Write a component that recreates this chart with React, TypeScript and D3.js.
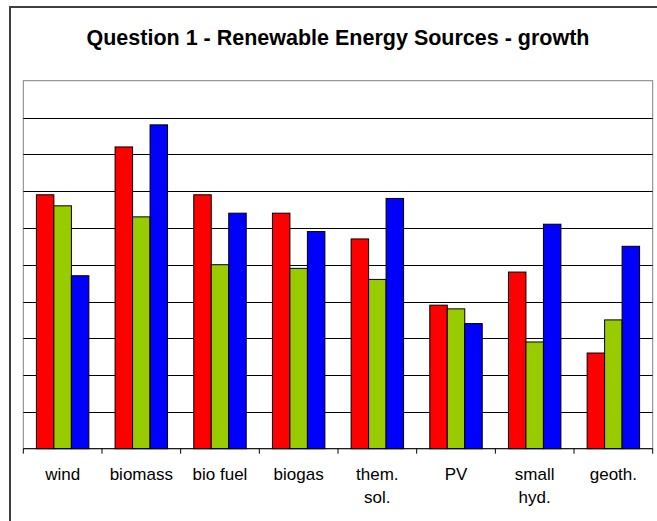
import React from "react";
import * as d3 from "d3";

const categories: string[][] = [
  ["wind"],
  ["biomass"],
  ["bio fuel"],
  ["biogas"],
  ["them.", "sol."],
  ["PV"],
  ["small", "hyd."],
  ["geoth."],
];
const seriesRed = [6.9, 8.2, 6.9, 6.4, 5.7, 3.9, 4.8, 2.6];
const seriesGreen = [6.6, 6.3, 5.0, 4.9, 4.6, 3.8, 2.9, 3.5];
const seriesBlue = [4.7, 8.8, 6.4, 5.9, 6.8, 3.4, 6.1, 5.5];
const seriesColors = ["#FF0000", "#99CC00", "#0000FF"];
const yTicks = [0, 1, 2, 3, 4, 5, 6, 7, 8, 9, 10];
const title = "Question 1 - Renewable Energy Sources - growth";

export default function App() {
  const W = 657;
  const H = 521;
  const left = 23.3;
  const right = 652.7;
  const top = 80.7;
  const bottom = 448.7;
  const keys = categories.map((c) => c.join(" "));
  const x = d3.scaleBand<string>().domain(keys).range([left, right]).paddingInner(0).paddingOuter(0);
  const bw = x.bandwidth();
  const groupW = (bw * 3) / 4.5;
  const xi = d3
    .scaleBand<number>()
    .domain([0, 1, 2])
    .range([(bw - groupW) / 2, (bw + groupW) / 2]);
  const y = d3.scaleLinear().domain([0, 10]).range([bottom, top]);
  const series = [seriesRed, seriesGreen, seriesBlue];
  const font = "Arial, 'Liberation Sans', sans-serif";

  return (
    <svg
      width={W}
      height={H}
      style={{ position: "absolute", left: 0, top: 0, background: "#fff" }}
      fontFamily={font}
    >
      <rect x={0} y={0} width={W} height={H} fill="#fff" />
      <rect x={10} y={7} width={W + 20} height={H + 20} fill="#fff" stroke="#404040" strokeWidth={2} />
      <text x={338} y={45} textAnchor="middle" fontWeight="bold" fontSize={21.5} fill="#000">
        {title}
      </text>
      {/* plot border */}
      <rect x={left} y={top} width={right - left} height={bottom - top} fill="#fff" stroke="#808080" strokeWidth={1} />
      {/* gridlines */}
      {yTicks
        .filter((t) => t > 0 && t < 10)
        .map((t) => (
          <line key={t} x1={left} x2={right} y1={Math.round(y(t)) + 0.5} y2={Math.round(y(t)) + 0.5} stroke="#000" strokeWidth={1} />
        ))}
      {/* bars */}
      {series.map((s, si) =>
        s.map((v, i) => {
          const bx = (x(keys[i]) as number) + (xi(si) as number);
          return (
            <rect
              key={si + "-" + i}
              x={bx}
              y={y(v)}
              width={xi.bandwidth()}
              height={y(0) - y(v)}
              fill={seriesColors[si]}
              stroke="#000"
              strokeWidth={1}
            />
          );
        })
      )}
      {/* axis */}
      <line x1={left} x2={right} y1={bottom} y2={bottom} stroke="#000" strokeWidth={1} />
      {d3.range(keys.length + 1).map((i) => {
        const tx = left + i * bw;
        return <line key={i} x1={tx} x2={tx} y1={bottom} y2={bottom + 5} stroke="#000" strokeWidth={1} />;
      })}
      {categories.map((lines, i) => (
        <text
          key={i}
          x={(x(keys[i]) as number) + bw / 2}
          y={480}
          textAnchor="middle"
          fontSize={17}
          fill="#000"
        >
          {lines.map((l, j) => (
            <tspan key={j} x={(x(keys[i]) as number) + bw / 2} dy={j === 0 ? 0 : 22.5}>
              {l}
            </tspan>
          ))}
        </text>
      ))}
    </svg>
  );
}
